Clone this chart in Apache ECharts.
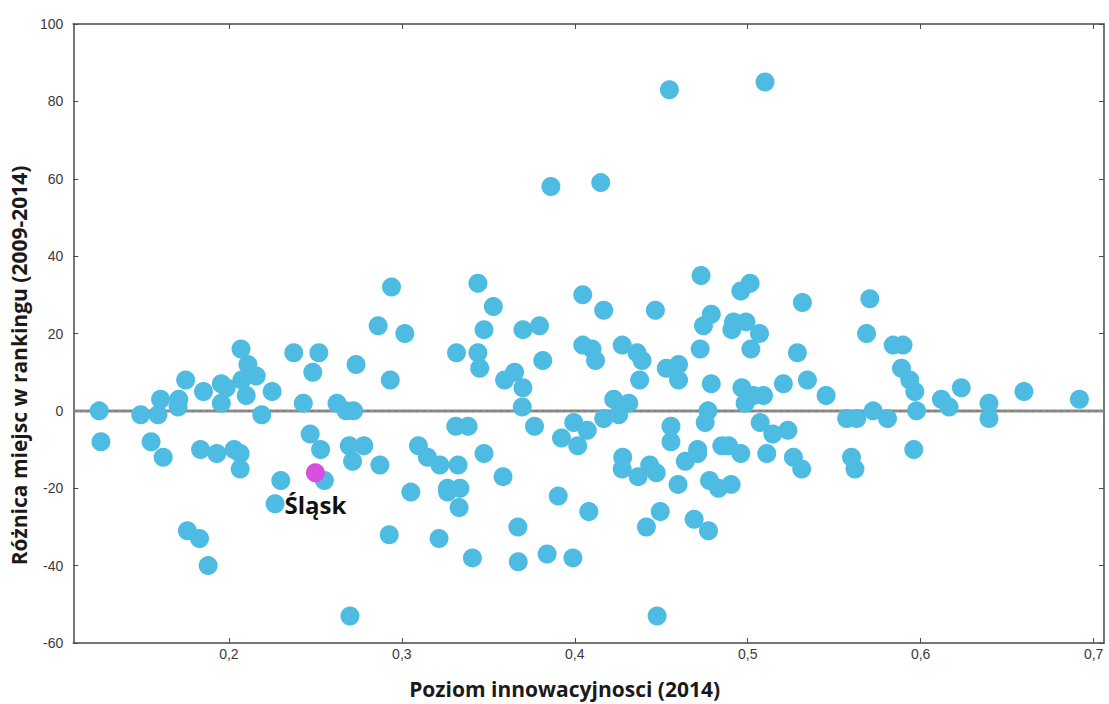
<!DOCTYPE html>
<html>
<head>
<meta charset="utf-8">
<script src="https://cdn.jsdelivr.net/npm/echarts@6/dist/echarts.min.js"></script>
<style>
html,body{margin:0;padding:0;background:#ffffff;}
#chart{width:1109px;height:704px;}
</style>
</head>
<body>
<div id="chart"></div>
<script>
// ---- data ----
const xAxisTitle = 'Poziom innowacyjnosci (2014)';
const yAxisTitle = 'Różnica miejsc w rankingu (2009-2014)';
const xTickValues = [0.2, 0.3, 0.4, 0.5, 0.6, 0.7];
const xRange = [0.11, 0.706];
const yRange = [-60, 100];
const yStep = 20;

// innovation level (2014) of each region
const innovation = [
  0.125, 0.126, 0.149, 0.155, 0.159, 0.1605, 0.162, 0.171, 0.1706, 0.175,
  0.176, 0.183, 0.1836, 0.1853, 0.188, 0.193, 0.1956, 0.1985, 0.1956, 0.203,
  0.2065, 0.2065, 0.207, 0.211, 0.2158, 0.2075, 0.21, 0.219, 0.225, 0.230,
  0.2267, 0.2375, 0.243, 0.2485, 0.252, 0.247, 0.253, 0.2552, 0.2625,
  0.2677, 0.2721, 0.2696, 0.2715, 0.2735, 0.278, 0.270, 0.2863, 0.2873, 0.294,
  0.2933, 0.2927, 0.3017, 0.3052, 0.3096, 0.3148, 0.322, 0.3215, 0.3264, 0.3264,
  0.3336, 0.3331, 0.3325, 0.3312, 0.3383, 0.3316, 0.3408, 0.344, 0.344, 0.345,
  0.3475, 0.3475, 0.3529, 0.3585, 0.3594, 0.3652, 0.370, 0.3696, 0.370, 0.3671,
  0.3673, 0.3767, 0.3796, 0.3815, 0.384, 0.3862, 0.3904, 0.3923, 0.3989, 0.3994,
  0.4017, 0.4046, 0.4046, 0.4072, 0.4081, 0.410, 0.412, 0.415, 0.4167, 0.4167,
  0.4225, 0.4254, 0.4274, 0.4277, 0.4274, 0.4312, 0.436, 0.4366, 0.4375, 0.4389,
  0.4414, 0.4433, 0.4466, 0.4471, 0.4476, 0.4494, 0.4529, 0.4547, 0.4556, 0.4556,
  0.460, 0.460, 0.4597, 0.4639, 0.469, 0.471, 0.471, 0.4725, 0.473, 0.4744,
  0.4754, 0.477, 0.4773, 0.4779, 0.4789, 0.4789, 0.4831, 0.485, 0.4889, 0.4904,
  0.4908, 0.4918, 0.496, 0.496, 0.4966, 0.4985, 0.499, 0.5014, 0.5018, 0.5033,
  0.5068, 0.5072, 0.5091, 0.510, 0.511, 0.5145, 0.5206, 0.5232, 0.5264, 0.5287,
  0.5312, 0.5316, 0.5345, 0.5453, 0.5572, 0.563, 0.560, 0.562,
  0.5687, 0.5706, 0.5725, 0.5808, 0.5841, 0.5898, 0.5889, 0.5937, 0.5966, 0.5976,
  0.596, 0.612, 0.6164, 0.6235, 0.6395, 0.6395, 0.6597, 0.6918
];

// change of ranking position (2009-2014) of each region
const rankChange = [
  0, -8, -1, -8, -1, 3, -12, 3, 1, 8,
  -31, -33, -10, 5, -40, -11, 7, 6, 2, -10,
  -11, -15, 16, 12, 9, 8, 4, -1, 5, -18,
  -24, 15, 2, 10, 15, -6, -10, -18, 2,
  0, 0, -9, -13, 12, -9, -53, 22, -14, 32,
  8, -32, 20, -21, -9, -12, -14, -33, -20, -21,
  -20, -25, -14, -4, -4, 15, -38, 33, 15, 11,
  21, -11, 27, -17, 8, 10, 6, 1, 21, -30,
  -39, -4, 22, 13, -37, 58, -22, -7, -38, -3,
  -9, 30, 17, -5, -26, 16, 13, 59, 26, -2,
  3, -1, 17, -12, -15, 2, 15, -17, 8, 13,
  -30, -14, 26, -16, -53, -26, 11, 83, -4, -8,
  12, 8, -19, -13, -28, -10, -11, 16, 35, 22,
  -3, 0, -31, -18, 25, 7, -20, -9, -9, -19,
  21, 23, 31, -11, 6, 2, 23, 33, 16, 4,
  20, -3, 4, 85, -11, -6, 7, -5, -12, 15,
  -15, 28, 8, 4, -2, -2, -12, -15,
  20, 29, 0, -2, 17, 17, 11, 8, 5, 0,
  -10, 3, 1, 6, 2, -2, 5, 3
];

// highlighted region
const highlightNames = ['Śląsk'];
const highlightInnovation = [0.25];
const highlightRankChange = [-16];

// ---- chart ----
const pointData = innovation.map((x, i) => [x, rankChange[i]]);
const highlightData = highlightNames.map((n, i) => ({ name: n, value: [highlightInnovation[i], highlightRankChange[i]] }));
const fmt = v => String(v).replace('.', ',');

const axisCol = '#4a4a4a';
const tickFont = { fontFamily: 'Liberation Sans, Arial, sans-serif', fontSize: 14, color: '#3a3a3a' };
const titleFont = { fontFamily: 'Open Sans, Noto Sans, sans-serif', fontWeight: 'bold', fontSize: 21, color: '#1a1a1a' };

const chart = echarts.init(document.getElementById('chart'), null, { renderer: 'svg' });
chart.setOption({
  backgroundColor: '#ffffff',
  animation: false,
  grid: { left: 73, right: 5, top: 24, bottom: 60, containLabel: false },
  xAxis: [
    {
      type: 'value', position: 'bottom', min: xRange[0], max: xRange[1],
      name: xAxisTitle, nameLocation: 'middle', nameGap: 35,
      nameTextStyle: Object.assign({}, titleFont, { padding: [0, 48, 0, 0] }),
      axisLine: { show: true, onZero: false, lineStyle: { color: axisCol, width: 1.5 } },
      axisTick: { show: true, inside: true, length: 5, customValues: xTickValues, lineStyle: { color: axisCol } },
      axisLabel: { customValues: xTickValues, formatter: fmt, margin: 4, ...tickFont },
      splitLine: { show: false }
    },
    {
      type: 'value', position: 'top', min: xRange[0], max: xRange[1],
      axisLine: { show: true, onZero: false, lineStyle: { color: axisCol, width: 1.5 } },
      axisTick: { show: true, inside: true, length: 5, customValues: xTickValues, lineStyle: { color: axisCol } },
      axisLabel: { show: false },
      splitLine: { show: false }
    }
  ],
  yAxis: [
    {
      type: 'value', position: 'left', min: yRange[0], max: yRange[1], interval: yStep,
      name: yAxisTitle, nameLocation: 'middle', nameGap: 34, nameRotate: 90,
      nameTextStyle: Object.assign({}, titleFont, { padding: [0, 64, 0, 0] }),
      axisLine: { show: true, onZero: false, lineStyle: { color: axisCol, width: 1.5 } },
      axisTick: { show: true, inside: true, length: 5, lineStyle: { color: axisCol } },
      axisLabel: { formatter: fmt, margin: 10, padding: [0, 0, 10, 0], ...tickFont },
      splitLine: { show: false }
    },
    {
      type: 'value', position: 'right', min: yRange[0], max: yRange[1], interval: yStep,
      axisLine: { show: true, onZero: false, lineStyle: { color: axisCol, width: 1.5 } },
      axisTick: { show: true, inside: true, length: 5, lineStyle: { color: axisCol } },
      axisLabel: { show: false },
      splitLine: { show: false }
    }
  ],
  series: [
    {
      type: 'line', z: 1, silent: true, symbol: 'none',
      data: [[xRange[0], 0], [xRange[1], 0]],
      lineStyle: { color: '#8d8d8d', width: 3 }
    },
    {
      type: 'line', z: 1, silent: true, symbol: 'none',
      data: [[xRange[0], 0], [xRange[1], 0]],
      lineStyle: { color: '#6f6f6f', width: 1, type: [2, 5] }
    },
    {
      type: 'scatter', z: 3, symbolSize: 19,
      data: pointData,
      itemStyle: { color: '#4dbbe2', opacity: 1 }
    },
    {
      type: 'scatter', z: 4, symbolSize: 19,
      data: highlightData,
      itemStyle: { color: '#d64fde', opacity: 1 },
      label: {
        show: true, position: 'bottom', distance: 10, formatter: p => p.name,
        fontFamily: 'Open Sans, Noto Sans, sans-serif', fontWeight: 'bold', fontSize: 24, color: '#111111'
      }
    }
  ]
});
</script>
</body>
</html>
